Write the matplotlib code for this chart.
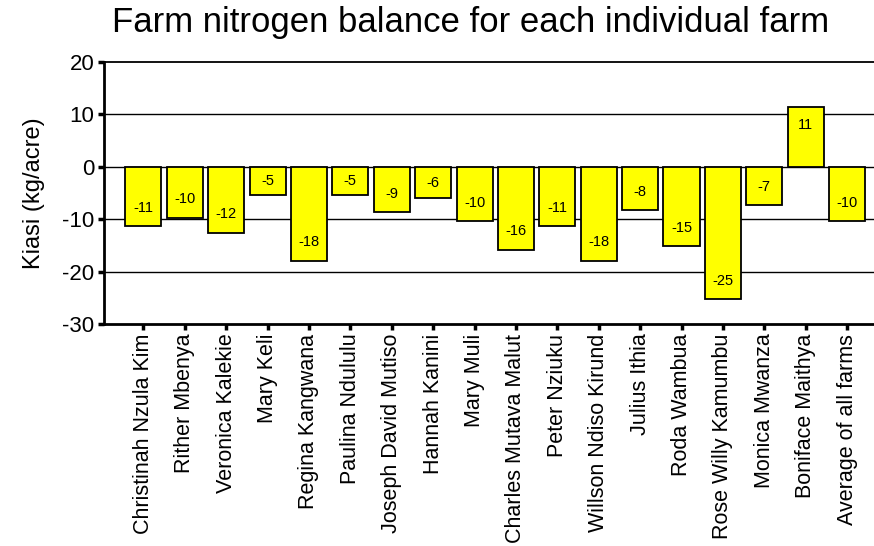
import matplotlib.pyplot as plt
import numpy as np

plt.rcParams['font.family'] = ['Liberation Sans', 'DejaVu Sans']
plt.rcParams['axes.unicode_minus'] = False

# farm names and nitrogen balance (kg/acre)
farms = ["Christinah Nzula Kim", "Rither Mbenya", "Veronica Kalekie", "Mary Keli",
         "Regina Kangwana", "Paulina Ndululu", "Joseph David Mutiso", "Hannah Kanini",
         "Mary Muli", "Charles Mutava Malut", "Peter Nziuku", "Willson Ndiso Kirund",
         "Julius Ithia", "Roda Wambua", "Rose Willy Kamumbu", "Monica Mwanza",
         "Boniface Maithya", "Average of all farms"]
balance = [-11.3, -9.7, -12.6, -5.4, -17.9, -5.4, -8.6, -6.0, -10.4, -15.8,
           -11.3, -17.9, -8.3, -15.1, -25.2, -7.3, 11.5, -10.4]
labels = [-11, -10, -12, -5, -18, -5, -9, -6, -10, -16, -11, -18, -8, -15, -25, -7, 11, -10]

fig = plt.figure(figsize=(8.74, 5.46), dpi=100)
ax = fig.add_axes([0.119, 0.4066, 0.881, 0.4798])

x = np.arange(len(farms))
ax.bar(x, balance, width=0.87, color='#ffff00', edgecolor='black', linewidth=1.3, zorder=3)

# value labels near the inner end of each bar
for xi, v, lab in zip(x, balance, labels):
    off = min(3.5, abs(v) / 2)
    ax.text(xi, v - np.sign(v) * off, str(lab), ha='center', va='center', fontsize=10.5, zorder=4)

ax.set_ylim(-30, 20)
ax.set_xlim(-0.95, 17.65)
ax.set_yticks([-30, -20, -10, 0, 10, 20])
for yv in [-20, -10, 0, 10]:
    ax.axhline(yv, color='black', linewidth=1, zorder=1)

ax.set_xticks(x)
ax.set_xticklabels(farms, rotation=90, fontsize=15.5)
ax.tick_params(axis='y', labelsize=16, length=4, width=2.5, direction='out', pad=3)
ax.tick_params(axis='x', length=4, width=2.5, direction='out', pad=3)

ax.spines['right'].set_visible(False)
ax.spines['top'].set_linewidth(1.3)
ax.spines['left'].set_linewidth(2)
ax.spines['bottom'].set_linewidth(2)

ax.set_ylabel('Kiasi (kg/acre)', fontsize=17, labelpad=12)
fig.text(0.538, 0.958, 'Farm nitrogen balance for each individual farm',
         ha='center', va='center', fontsize=25)

fig.savefig('out.png', dpi=100)
